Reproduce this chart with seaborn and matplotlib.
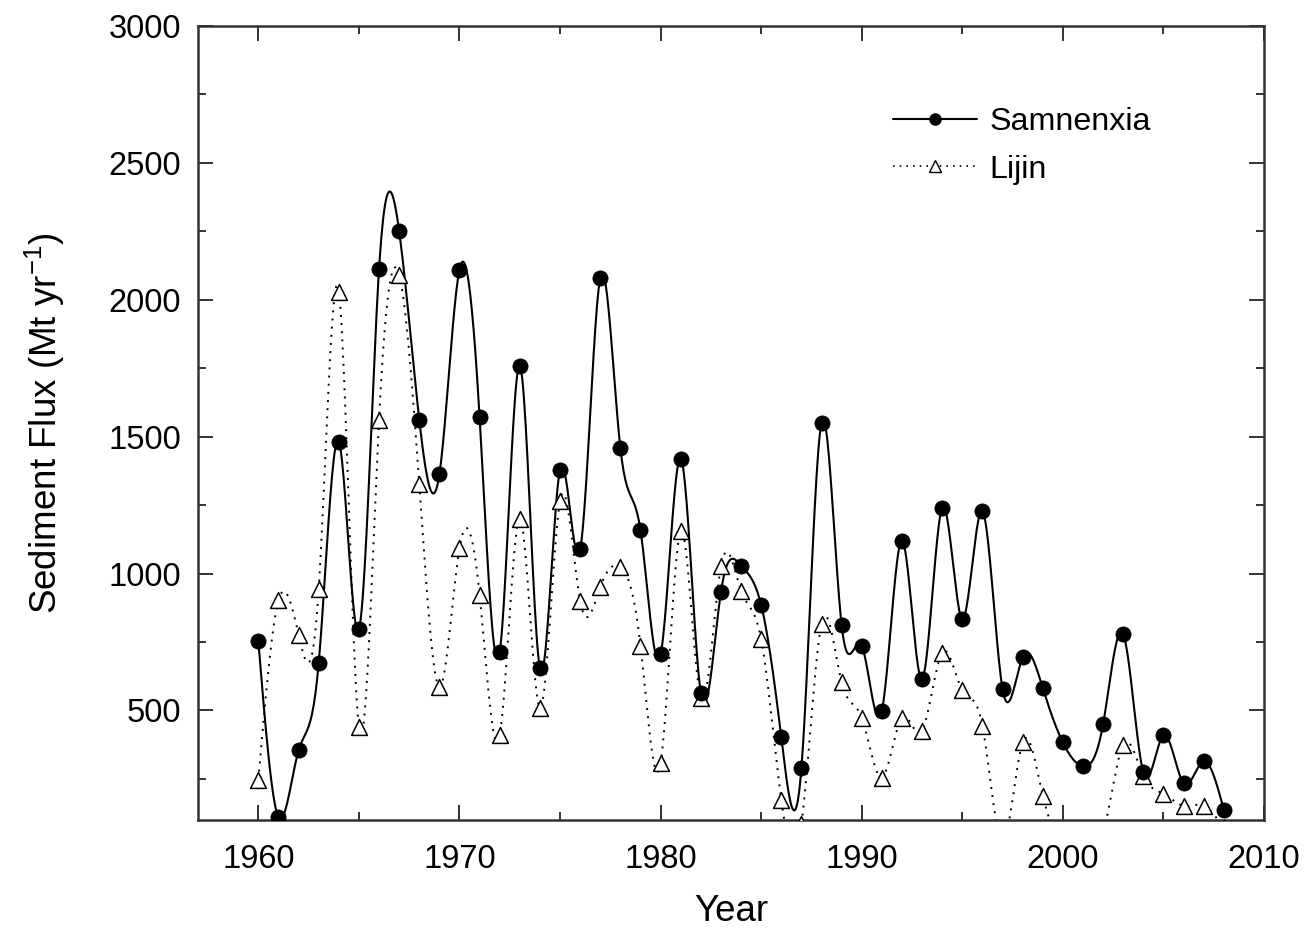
import numpy as np
import pandas as pd
import matplotlib
matplotlib.use("Agg")
import matplotlib.pyplot as plt
import seaborn as sns
from matplotlib.lines import Line2D
from matplotlib.ticker import MultipleLocator

# ---------------- data ----------------
years = list(range(1960, 2009))
samnenxia = [753, 110, 354, 673, 1482, 797, 2111, 2251, 1562, 1362,
             2110, 1571, 714, 1759, 654, 1379, 1089, 2080, 1458, 1158,
             705, 1420, 563, 933, 1029, 885, 402, 289, 1551, 812,
             736, 499, 1120, 615, 1241, 834, 1228, 579, 694, 582,
             383, 296, 450, 779, 275, 409, 235, 314, 138]
lijin = [247, 902, 777, 942, 2030, 439, 1561, 2092, 1327, 585,
         1092, 923, 410, 1201, 508, 1265, 900, 951, 1025, 737,
         309, 1154, 545, 1026, 937, 760, 174, 85, 816, 603,
         474, 255, 474, 426, 711, 573, 444, 20, 383, 189,
         22, 20, 55, 375, 262, 196, 152, 152, 70]
series_names = ["Samnenxia", "Lijin"]
x_ticks = [1960, 1970, 1980, 1990, 2000, 2010]
y_ticks = [500, 1000, 1500, 2000, 2500, 3000]


def natural_spline(x, y, per=24):
    """Smooth connecting curve (natural cubic spline) through the data points."""
    x = np.asarray(x, float)
    y = np.asarray(y, float)
    n = len(x)
    h = np.diff(x)
    A = np.zeros((n, n))
    b = np.zeros(n)
    A[0, 0] = A[-1, -1] = 1.0
    for i in range(1, n - 1):
        A[i, i - 1] = h[i - 1]
        A[i, i] = 2 * (h[i - 1] + h[i])
        A[i, i + 1] = h[i]
        b[i] = 3 * ((y[i + 1] - y[i]) / h[i] - (y[i] - y[i - 1]) / h[i - 1])
    c = np.linalg.solve(A, b)
    bb = (y[1:] - y[:-1]) / h - h * (2 * c[:-1] + c[1:]) / 3
    d = (c[1:] - c[:-1]) / (3 * h)
    xs = np.linspace(x[0], x[-1], (n - 1) * per + 1)
    idx = np.clip(np.searchsorted(x, xs, side="right") - 1, 0, n - 2)
    dt = xs - x[idx]
    ys = y[idx] + bb[idx] * dt + c[idx] * dt ** 2 + d[idx] * dt ** 3
    return xs, ys


sns.set_theme(style="ticks")
plt.rcParams["font.family"] = ["Liberation Sans", "DejaVu Sans"]
plt.rcParams["mathtext.fontset"] = "custom"
plt.rcParams["mathtext.rm"] = "Liberation Sans"
plt.rcParams["mathtext.it"] = "Liberation Sans:italic"
plt.rcParams["text.color"] = "black"
plt.rcParams["axes.labelcolor"] = "black"

fig = plt.figure(figsize=(13.07, 9.32), dpi=100)
ax = fig.add_axes([0.1515, 0.1202, 0.8156, 0.8519])

pts = pd.DataFrame({"Year": years, "Samnenxia": samnenxia, "Lijin": lijin})

xs, ys = natural_spline(years, samnenxia)
sns.lineplot(x=xs, y=ys, ax=ax, color="black", lw=1.5, sort=False, legend=False)
xs2, ys2 = natural_spline(years, lijin)
sns.lineplot(x=xs2, y=ys2, ax=ax, color="black", lw=1.4, sort=False,
             legend=False, linestyle=(0, (1, 3.2)))

sns.scatterplot(data=pts, x="Year", y="Samnenxia", ax=ax, marker="o", s=120,
                color="black", edgecolor="black", linewidth=0.5, legend=False, zorder=4)
sns.scatterplot(data=pts, x="Year", y="Lijin", ax=ax, marker="^", s=130,
                facecolor="white", edgecolor="black", linewidth=1.1, legend=False, zorder=3)

ax.set_xlim(1957, 2010)
ax.set_ylim(100, 3000)
ax.set_xticks(x_ticks)
ax.set_yticks(y_ticks)
ax.xaxis.set_minor_locator(MultipleLocator(5))
ax.yaxis.set_minor_locator(MultipleLocator(250))
ax.tick_params(which="major", direction="in", top=True, right=True, length=11,
               width=1.4, color="#333333", labelsize=23.5, pad=17, labelcolor="black")
ax.tick_params(which="minor", direction="in", top=True, right=True, length=5.5,
               width=1.4, color="#333333")
ax.tick_params(axis="y", which="major", pad=12)
for sp in ax.spines.values():
    sp.set_linewidth(1.8)
    sp.set_color("#333333")

ax.set_xlabel("Year", fontsize=26.5, labelpad=14, color="black")
ax.set_ylabel("Sediment Flux (Mt yr$^{-1}$)", fontsize=26.5, labelpad=30, color="black")
ax.grid(False)

handles = [
    Line2D([], [], color="black", lw=1.5, marker="o", markersize=8,
           markerfacecolor="black", markeredgecolor="black"),
    Line2D([], [], color="black", lw=1.2, linestyle=(0, (1, 3)), marker="^",
           markersize=8, markerfacecolor="white", markeredgecolor="black"),
]
leg = ax.legend(handles, series_names, loc="upper left", bbox_to_anchor=(0.652, 0.898),
                frameon=False, fontsize=23.2, handlelength=2.6, handletextpad=0.4,
                labelspacing=0.55, borderaxespad=0, borderpad=0)
for t in leg.get_texts():
    t.set_color("black")

fig.savefig("out.png", dpi=100)
